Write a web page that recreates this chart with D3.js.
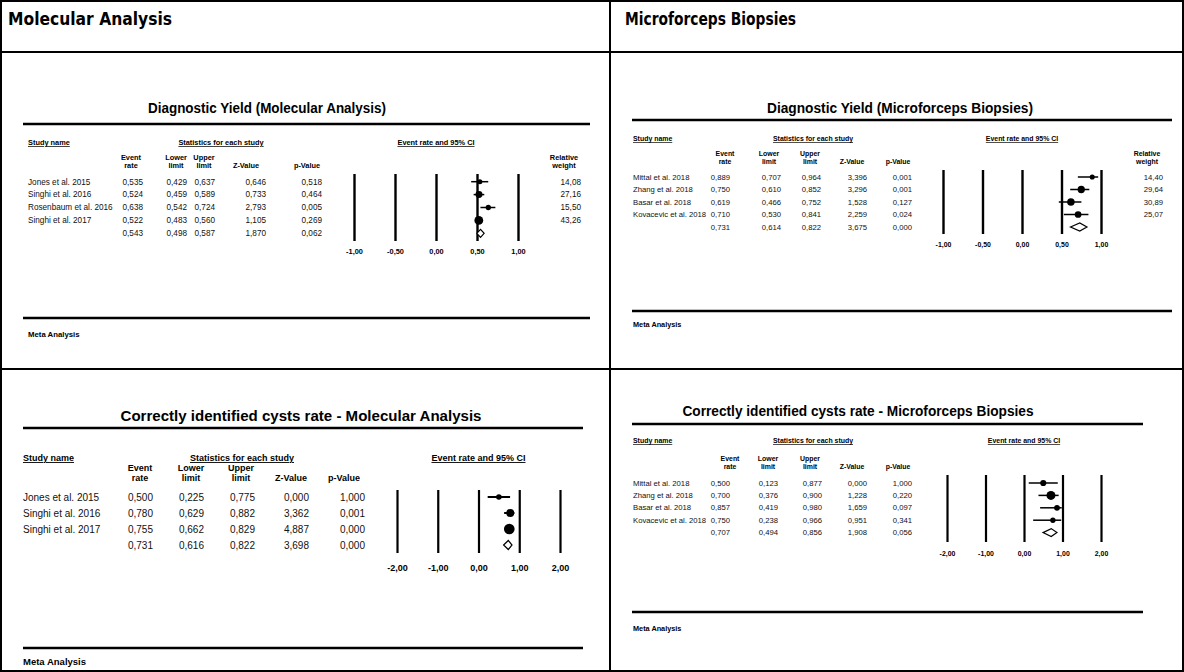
<!DOCTYPE html>
<html>
<head>
<meta charset="utf-8">
<script src="https://cdn.jsdelivr.net/npm/d3@7"></script>
<style>
  body { margin: 0; background: #fff; }
  svg { display: block; }
  text { font-family: "Liberation Sans", Arial, sans-serif; fill: #000; }
</style>
</head>
<body>
<svg id="chart" width="1184" height="672"></svg>
<script>
// ---- Study data (last entry of each column = pooled estimate) ----
const molYieldNames  = ["Jones et al. 2015", "Singhi et al. 2016", "Rosenbaum et al. 2016", "Singhi et al. 2017", ""];
const molYieldRate   = [0.535, 0.524, 0.638, 0.522, 0.543];
const molYieldLower  = [0.429, 0.459, 0.542, 0.483, 0.498];
const molYieldUpper  = [0.637, 0.589, 0.724, 0.560, 0.587];
const molYieldZ      = [0.646, 0.733, 2.793, 1.105, 1.870];
const molYieldP      = [0.518, 0.464, 0.005, 0.269, 0.062];
const molYieldWeight = [14.08, 27.16, 15.50, 43.26];

const mfbYieldNames  = ["Mittal et al. 2018", "Zhang et al. 2018", "Basar et al. 2018", "Kovacevic et al. 2018", ""];
const mfbYieldRate   = [0.889, 0.750, 0.619, 0.710, 0.731];
const mfbYieldLower  = [0.707, 0.610, 0.466, 0.530, 0.614];
const mfbYieldUpper  = [0.964, 0.852, 0.752, 0.841, 0.822];
const mfbYieldZ      = [3.396, 3.296, 1.528, 2.259, 3.675];
const mfbYieldP      = [0.001, 0.001, 0.127, 0.024, 0.000];
const mfbYieldWeight = [14.40, 29.64, 30.89, 25.07];

const molCystNames   = ["Jones et al. 2015", "Singhi et al. 2016", "Singhi et al. 2017", ""];
const molCystRate    = [0.500, 0.780, 0.755, 0.731];
const molCystLower   = [0.225, 0.629, 0.662, 0.616];
const molCystUpper   = [0.775, 0.882, 0.829, 0.822];
const molCystZ       = [0.000, 3.362, 4.887, 3.698];
const molCystP       = [1.000, 0.001, 0.000, 0.000];
const molCystWeight  = [15, 30, 55];          // marker sizes only (column not printed)

const mfbCystNames   = ["Mittal et al. 2018", "Zhang et al. 2018", "Basar et al. 2018", "Kovacevic et al. 2018", ""];
const mfbCystRate    = [0.500, 0.700, 0.857, 0.750, 0.707];
const mfbCystLower   = [0.123, 0.376, 0.419, 0.238, 0.494];
const mfbCystUpper   = [0.877, 0.900, 0.980, 0.966, 0.856];
const mfbCystZ       = [0.000, 1.228, 1.659, 0.951, 1.908];
const mfbCystP       = [1.000, 0.220, 0.097, 0.341, 0.056];
const mfbCystWeight  = [21, 45, 18, 16];      // marker sizes only (column not printed)

const yieldTicks = [-1, -0.5, 0, 0.5, 1];
const cystTicks  = [-2, -1, 0, 1, 2];

const sectionTitles = ["Molecular Analysis", "Microforceps Biopsies"];
const colHeadTop    = ["Event", "Lower", "Upper", "", ""];
const colHeadBottom = ["rate", "limit", "limit", "Z-Value", "p-Value"];

// ---- number formatting with decimal comma ----
const loc = d3.formatLocale({decimal: ",", thousands: ".", grouping: [3], currency: ["", ""], minus: "-"});
const f3 = loc.format(".3f");
const f2 = loc.format(".2f");

const svg = d3.select("#chart");

// ---- page frame ----
const frame = svg.append("g").attr("stroke", "#000").attr("stroke-width", 2).attr("fill", "none");
frame.append("rect").attr("x", 1).attr("y", 1).attr("width", 1182).attr("height", 670);
frame.append("line").attr("x1", 610).attr("x2", 610).attr("y1", 0).attr("y2", 672);
frame.append("line").attr("x1", 0).attr("x2", 1184).attr("y1", 52).attr("y2", 52);
frame.append("line").attr("x1", 0).attr("x2", 1184).attr("y1", 369).attr("y2", 369);

const sectionLayout = [{x: 8, w: 164}, {x: 625, w: 171}];
svg.selectAll("text.section").data(sectionTitles).join("text")
  .attr("class", "section")
  .attr("x", (d, i) => sectionLayout[i].x)
  .attr("y", 25)
  .attr("textLength", (d, i) => sectionLayout[i].w)
  .attr("lengthAdjust", "spacingAndGlyphs")
  .style("font-family", "'DejaVu Sans', Tahoma, sans-serif")
  .style("font-weight", "bold")
  .style("font-size", "17px")
  .text(d => d);

// ---- one forest plot ----
function drawForest(cfg, d) {
  const g = svg.append("g");
  const fs = cfg.font;
  const n = d.names.length;
  const rowY = i => cfg.rowY0 + i * cfg.rowStep;
  const base = fs * 0.35;

  // title and rules
  g.append("text").attr("x", cfg.titleX).attr("y", cfg.titleY)
    .attr("text-anchor", "middle")
    .attr("textLength", cfg.titleW).attr("lengthAdjust", "spacingAndGlyphs")
    .style("font-weight", "bold").style("font-size", cfg.titleSize + "px")
    .text(cfg.title);
  [cfg.ruleY, cfg.metaY].forEach(y => {
    g.append("line").attr("x1", cfg.ruleX0).attr("x2", cfg.ruleX1)
      .attr("y1", y).attr("y2", y)
      .attr("stroke", "#000").attr("stroke-width", cfg.ruleW);
  });
  g.append("text").attr("x", cfg.nameX).attr("y", cfg.metaTextY)
    .style("font-weight", "bold").style("font-size", (fs * 0.95) + "px")
    .text("Meta Analysis");

  const x = d3.scaleLinear().domain(d3.extent(d.ticks)).range(cfg.xRange);

  // group headers
  const heads = [
    {t: "Study name", x: cfg.nameX, a: "start"},
    {t: "Statistics for each study", x: cfg.statsX, a: "middle"},
    {t: "Event rate and 95% CI", x: x(0), a: "middle"}
  ];
  g.selectAll("text.grp").data(heads).join("text").attr("class", "grp")
    .attr("x", h => h.x).attr("y", cfg.headY).attr("text-anchor", h => h.a)
    .style("font-weight", "bold").style("font-size", (fs * 0.9) + "px")
    .style("text-decoration", "underline")
    .text(h => h.t);

  // column headers
  g.selectAll("text.ch1").data(colHeadTop).join("text").attr("class", "ch1")
    .attr("x", (t, i) => cfg.colHead[i]).attr("y", cfg.head1Y)
    .attr("text-anchor", "middle")
    .style("font-weight", "bold").style("font-size", (fs * 0.9) + "px").text(t => t);
  g.selectAll("text.ch2").data(colHeadBottom).join("text").attr("class", "ch2")
    .attr("x", (t, i) => cfg.colHead[i]).attr("y", cfg.head2Y)
    .attr("text-anchor", "middle")
    .style("font-weight", "bold").style("font-size", (fs * 0.9) + "px").text(t => t);

  // table rows
  const cols = [d.rate, d.lower, d.upper, d.z, d.p];
  g.selectAll("text.name").data(d.names).join("text").attr("class", "name")
    .attr("x", cfg.nameX).attr("y", (t, i) => rowY(i) + base)
    .style("font-size", fs + "px").style("fill", "#111").text(t => t);
  cols.forEach((col, c) => {
    g.selectAll("text.c" + c).data(col).join("text").attr("class", "c" + c)
      .attr("x", cfg.colRight[c]).attr("y", (v, i) => rowY(i) + base)
      .attr("text-anchor", "end")
      .style("font-size", fs + "px").style("fill", "#111").text(v => f3(v));
  });

  // relative weight column
  if (cfg.showWeight) {
    g.append("text").attr("x", cfg.weightHeadX).attr("y", cfg.head1Y).attr("text-anchor", "middle")
      .style("font-weight", "bold").style("font-size", (fs * 0.9) + "px").text("Relative");
    g.append("text").attr("x", cfg.weightHeadX).attr("y", cfg.head2Y).attr("text-anchor", "middle")
      .style("font-weight", "bold").style("font-size", (fs * 0.9) + "px").text("weight");
    g.selectAll("text.w").data(d.weight).join("text").attr("class", "w")
      .attr("x", cfg.weightRight).attr("y", (v, i) => rowY(i) + base)
      .attr("text-anchor", "end")
      .style("font-size", fs + "px").style("fill", "#111").text(v => f2(v));
  }

  // reference lines + tick labels from the axis
  const axis = d3.axisBottom(x).tickValues(d.ticks).tickFormat(f2)
    .tickSizeInner(-(cfg.lineBottom - cfg.lineTop)).tickSizeOuter(0)
    .tickPadding(cfg.tickPad);
  const ax = g.append("g").attr("transform", `translate(0,${cfg.lineBottom})`).call(axis);
  ax.select(".domain").remove();
  ax.selectAll(".tick line").attr("stroke", "#000").attr("stroke-width", cfg.gridW);
  ax.selectAll(".tick text").attr("fill", "#000")
    .style("font-family", "'Liberation Sans', Arial, sans-serif")
    .style("font-weight", "bold").style("font-size", (fs * 0.9) + "px");

  // study markers
  const r = d3.scaleSqrt().domain([0, 100]).range([0, cfg.rMax]);
  const studies = d3.range(n - 1);
  g.selectAll("line.ci").data(studies).join("line").attr("class", "ci")
    .attr("x1", i => x(d.lower[i])).attr("x2", i => x(d.upper[i]))
    .attr("y1", i => rowY(i)).attr("y2", i => rowY(i))
    .attr("stroke", "#000").attr("stroke-width", cfg.ciW);
  g.selectAll("circle.pt").data(studies).join("circle").attr("class", "pt")
    .attr("cx", i => x(d.rate[i])).attr("cy", i => rowY(i))
    .attr("r", i => r(d.weight[i])).attr("fill", "#000");

  // pooled diamond
  const s = n - 1, ys = rowY(s), h = cfg.diamondH / 2;
  g.append("path")
    .attr("d", d3.line()([[x(d.lower[s]), ys], [x(d.rate[s]), ys - h], [x(d.upper[s]), ys], [x(d.rate[s]), ys + h]]) + "Z")
    .attr("fill", "#fff").attr("stroke", "#000").attr("stroke-width", 1.2);
}

// ---- four panels ----
drawForest({
  title: "Diagnostic Yield (Molecular Analysis)", titleX: 267, titleY: 113, titleW: 238, titleSize: 14,
  ruleX0: 23, ruleX1: 590, ruleY: 124, ruleW: 2.5, metaY: 318, metaTextY: 337,
  headY: 145, head1Y: 159.5, head2Y: 168, nameX: 28, statsX: 221,
  rowY0: 181.7, rowStep: 12.9, font: 8.2,
  colHead: [131, 176, 204, 246, 307], colRight: [143, 187, 215, 266, 322],
  xRange: [354, 518], lineTop: 174, lineBottom: 241, tickPad: 8, gridW: 2.4,
  showWeight: true, weightHeadX: 564, weightRight: 581,
  rMax: 6.7, ciW: 1.5, diamondH: 8
}, {names: molYieldNames, rate: molYieldRate, lower: molYieldLower, upper: molYieldUpper,
    z: molYieldZ, p: molYieldP, weight: molYieldWeight, ticks: yieldTicks});

drawForest({
  title: "Diagnostic Yield (Microforceps Biopsies)", titleX: 900, titleY: 113, titleW: 266, titleSize: 14,
  ruleX0: 632, ruleX1: 1172, ruleY: 120, ruleW: 2.5, metaY: 311, metaTextY: 327,
  headY: 141, head1Y: 155.5, head2Y: 164, nameX: 633, statsX: 813,
  rowY0: 177, rowStep: 12.5, font: 7.7,
  colHead: [725, 769, 810, 852, 898], colRight: [730, 781, 821, 867, 912],
  xRange: [943, 1101], lineTop: 170, lineBottom: 234, tickPad: 8, gridW: 2.4,
  showWeight: true, weightHeadX: 1147, weightRight: 1163,
  rMax: 6.7, ciW: 1.5, diamondH: 8
}, {names: mfbYieldNames, rate: mfbYieldRate, lower: mfbYieldLower, upper: mfbYieldUpper,
    z: mfbYieldZ, p: mfbYieldP, weight: mfbYieldWeight, ticks: yieldTicks});

drawForest({
  title: "Correctly identified cysts rate - Molecular Analysis", titleX: 301, titleY: 421, titleW: 361, titleSize: 15,
  ruleX0: 23, ruleX1: 583, ruleY: 428, ruleW: 2.5, metaY: 648, metaTextY: 665,
  headY: 461, head1Y: 471, head2Y: 481, nameX: 23, statsX: 242,
  rowY0: 497, rowStep: 16, font: 10,
  colHead: [140, 191, 241, 291, 344], colRight: [153, 204, 255, 309, 365],
  xRange: [397, 560], lineTop: 490, lineBottom: 553, tickPad: 12, gridW: 2.2,
  showWeight: false, rMax: 7.2, ciW: 2, diamondH: 9
}, {names: molCystNames, rate: molCystRate, lower: molCystLower, upper: molCystUpper,
    z: molCystZ, p: molCystP, weight: molCystWeight, ticks: cystTicks});

drawForest({
  title: "Correctly identified cysts rate - Microforceps Biopsies", titleX: 858, titleY: 416, titleW: 351, titleSize: 14,
  ruleX0: 632, ruleX1: 1143, ruleY: 424, ruleW: 2.5, metaY: 612, metaTextY: 631,
  headY: 443, head1Y: 460.5, head2Y: 469, nameX: 633, statsX: 813,
  rowY0: 483, rowStep: 12.4, font: 7.7,
  colHead: [730, 768, 810, 852, 898], colRight: [730, 778, 822, 867, 912],
  xRange: [947, 1101], lineTop: 475, lineBottom: 542, tickPad: 9, gridW: 2.2,
  showWeight: false, rMax: 6.7, ciW: 1.5, diamondH: 8
}, {names: mfbCystNames, rate: mfbCystRate, lower: mfbCystLower, upper: mfbCystUpper,
    z: mfbCystZ, p: mfbCystP, weight: mfbCystWeight, ticks: cystTicks});
</script>
</body>
</html>
